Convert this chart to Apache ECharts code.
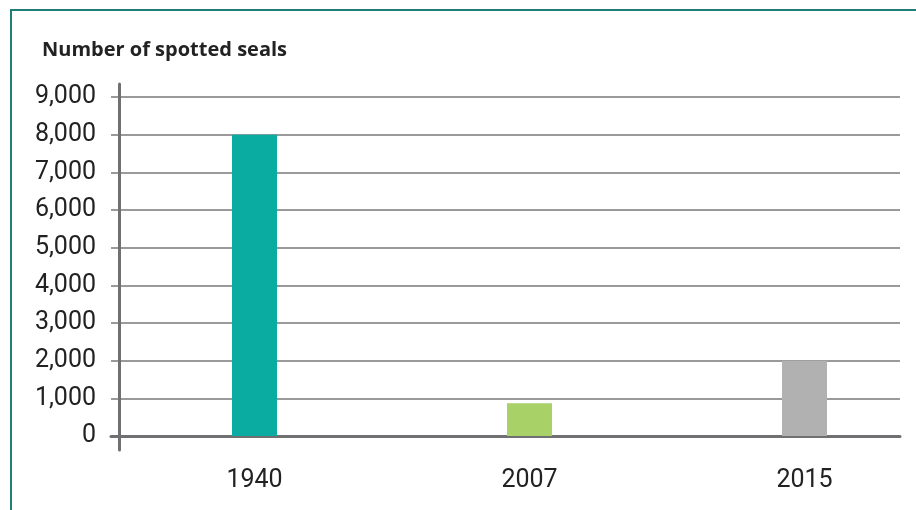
<!DOCTYPE html>
<html>
<head>
<meta charset="utf-8">
<script src="https://cdn.jsdelivr.net/npm/echarts@6/dist/echarts.min.js"></script>
<style>
  html, body { margin: 0; padding: 0; background: #fff; }
  #chart { width: 916px; height: 510px; }
</style>
</head>
<body>
<div id="chart"></div>
<script>
// Spotted seal population counts
const years = ['1940', '2007', '2015'];
const sealCounts = [8000, 870, 2000];
const barColors = ['#0aaba1', '#a8d168', '#b1b1b1'];
const yTicks = [0, 1000, 2000, 3000, 4000, 5000, 6000, 7000, 8000, 9000];

const yMin = yTicks[0];
const yMax = yTicks[yTicks.length - 1];
const yStep = yTicks[1] - yTicks[0];

const FONT = 'Roboto, "Open Sans", sans-serif';
const TITLE_FONT = '"Open Sans", "Noto Sans", sans-serif';
const AXIS_GREY = '#707072';
const GRID_GREY = '#9a9a9a';

const chart = echarts.init(document.getElementById('chart'), null, { renderer: 'canvas' });

chart.setOption({
  backgroundColor: '#ffffff',
  animation: false,
  title: {
    text: 'Number of spotted seals',
    left: 37,
    top: 35,
    textStyle: { fontFamily: TITLE_FONT, fontWeight: 'bold', fontSize: 20, color: '#222' }
  },
  graphic: [
    {
      // frame: top and left rules
      type: 'rect',
      shape: { x: 11, y: 10, width: 1200, height: 800 },
      style: { fill: 'none', stroke: '#1f7f77', lineWidth: 2 },
      silent: true
    }
  ],
  grid: [
    // value grid (gridlines start just left of the vertical rule)
    { left: 111, right: 16, top: 97, bottom: 74 },
    // bar grid, wider band spacing running past the right edge
    { left: 117, width: 825, top: 97, bottom: 74, outerBoundsMode: 'none' },
    // tall vertical axis rule
    { left: 119, right: 16, top: 84, bottom: 60 }
  ],
  xAxis: [
    {
      gridIndex: 0, type: 'category', data: years,
      axisLine: { show: true, lineStyle: { color: AXIS_GREY, width: 3 } },
      axisTick: { show: false }, axisLabel: { show: false }, splitLine: { show: false }
    },
    {
      gridIndex: 1, type: 'category', data: years,
      axisLine: { show: false }, axisTick: { show: false },
      axisLabel: { fontFamily: FONT, fontSize: 25, color: '#222', margin: 32 }
    },
    {
      gridIndex: 2, type: 'category', data: years, show: false
    }
  ],
  yAxis: [
    {
      gridIndex: 0, type: 'value', min: yMin, max: yMax, interval: yStep,
      axisLine: { show: false },
      axisTick: { show: false },
      splitLine: { show: true, lineStyle: { color: GRID_GREY, width: 2 } },
      axisLabel: {
        fontFamily: FONT, fontSize: 25, color: '#222', margin: 15,
        formatter: v => v.toLocaleString('en-US')
      }
    },
    {
      gridIndex: 1, type: 'value', min: yMin, max: yMax, interval: yStep, show: false
    },
    {
      gridIndex: 2, type: 'value', min: 0, max: 1,
      axisLine: { show: true, lineStyle: { color: AXIS_GREY, width: 3 } },
      axisTick: { show: false }, axisLabel: { show: false }, splitLine: { show: false }
    }
  ],
  series: [
    {
      type: 'bar',
      xAxisIndex: 1, yAxisIndex: 1,
      barWidth: 45,
      data: sealCounts.map((v, i) => ({ value: v, itemStyle: { color: barColors[i] } })),
      z: 1
    }
  ]
});
</script>
</body>
</html>
